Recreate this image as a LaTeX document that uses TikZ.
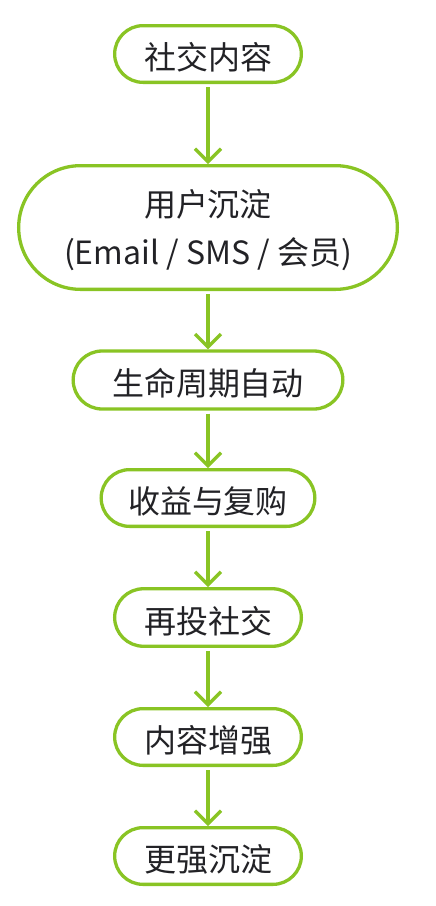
\documentclass[tikz,border=0pt]{standalone}
\usepackage{fontspec}
\setmainfont{Noto Sans CJK SC}
\usetikzlibrary{shapes.misc,arrows.meta}
\definecolor{lime}{RGB}{137,196,36}
\definecolor{ink}{RGB}{34,34,38}
\newcommand{\lowered}[1]{\raisebox{-3.5pt}[\height][\depth]{#1}}
\begin{document}
\begin{tikzpicture}[x=1pt,y=1pt,
  flowbox/.style={rounded rectangle, draw=lime, line width=3.3pt, fill=white,
    text=ink, inner sep=0pt, align=center,
    font=\fontsize{32}{48}\selectfont},
  flowarrow/.style={draw=lime, line width=3.3pt,
    -{Straight Barb[length=13pt,width=26pt]}, shorten <=3pt}]
\useasboundingbox (0,0) rectangle (436,-906);
\node[flowbox, minimum width=186.7pt, minimum height=56.7pt] (n1) at (208,-54) {\lowered{社交内容}};
\node[flowbox, minimum width=378.7pt, minimum height=123.7pt] (n2) at (208,-227.5) {\lowered{\begin{tabular}{@{}c@{}}用户沉淀\\(Email / SMS / 会员)\end{tabular}}};
\node[flowbox, minimum width=269.7pt, minimum height=58pt] (n3) at (208,-380) {\lowered{生命周期自动}};
\node[flowbox, minimum width=213.7pt, minimum height=56.7pt] (n4) at (208,-498) {\lowered{收益与复购}};
\node[flowbox, minimum width=186.7pt, minimum height=57.5pt] (n5) at (208,-617.5) {\lowered{再投社交}};
\node[flowbox, minimum width=186.7pt, minimum height=56.7pt] (n6) at (208,-737) {\lowered{内容增强}};
\node[flowbox, minimum width=186.7pt, minimum height=56.7pt] (n7) at (208,-856) {\lowered{更强沉淀}};
\draw[flowarrow] (n1.south) -- (n2.north);
\draw[flowarrow] (n2.south) -- (n3.north);
\draw[flowarrow] (n3.south) -- (n4.north);
\draw[flowarrow] (n4.south) -- (n5.north);
\draw[flowarrow] (n5.south) -- (n6.north);
\draw[flowarrow] (n6.south) -- (n7.north);
\end{tikzpicture}
\end{document}
